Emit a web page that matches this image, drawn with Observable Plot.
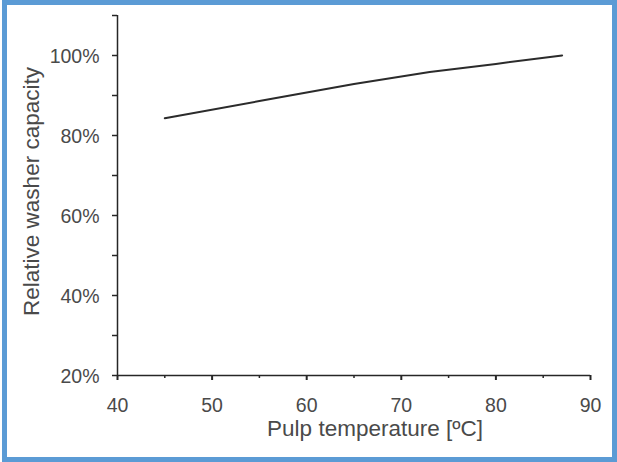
<!DOCTYPE html>
<html>
<head>
<meta charset="utf-8">
<script src="https://cdn.jsdelivr.net/npm/d3@7"></script>
<script src="https://cdn.jsdelivr.net/npm/@observablehq/plot@0.6"></script>
<style>
  html, body { margin: 0; padding: 0; background: #fff; }
  #wrap { position: relative; width: 617px; height: 462px; overflow: hidden; }
  #frame { position: absolute; left: 2px; top: 0px; right: 0px; bottom: 0px; border: 5px solid #5b9bd5; box-sizing: border-box; pointer-events: none; }
</style>
</head>
<body>
<div id="wrap"><div id="chart"></div><div id="frame"></div></div>
<script>
const temperature = [45, 55, 65, 73, 80, 87];
const capacity = [84.3, 88.6, 92.9, 95.9, 97.9, 100];
const xMajorTicks = [40, 50, 60, 70, 80, 90];
const xMinorTicks = [45, 55, 65, 75, 85];
const yLabelTicks = [20, 40, 60, 80, 100];
const yAllTicks = [20, 30, 40, 50, 60, 70, 80, 90, 100, 110];
const xTitle = "Pulp temperature [ºC]";
const yTitle = "Relative washer capacity";

const data = temperature.map((t, i) => ({t, c: capacity[i]}));
const axisColor = "#262626";
const textColor = "#4a4a4a";

const chart = Plot.plot({
  width: 617,
  height: 462,
  marginLeft: 117,
  marginRight: 27,
  marginTop: 15,
  marginBottom: 87,
  style: {fontFamily: "'Liberation Sans', Arial, sans-serif", fontSize: "19.5px", color: textColor, background: "#fff"},
  x: {domain: [40, 90]},
  y: {domain: [20, 110]},
  marks: [
    Plot.axisY({ticks: yAllTicks, tickSize: 5, tickFormat: () => "", stroke: axisColor, strokeWidth: 1.5, label: null}),
    Plot.axisX({ticks: xMajorTicks, tickSize: 5, tickFormat: () => "", stroke: axisColor, strokeWidth: 2, label: null}),
    Plot.axisX({ticks: xMinorTicks, tickSize: 3, tickFormat: () => "", stroke: axisColor, strokeWidth: 1.5, label: null}),
    Plot.text(yLabelTicks, {x: 40, y: d => d, text: d => d + "%", textAnchor: "end", lineAnchor: "middle", dx: -18, dy: 1, fill: textColor, fontSize: 19.5}),
    Plot.text(xMajorTicks, {x: d => d, y: 20, text: d => String(d), textAnchor: "middle", lineAnchor: "top", dy: 23, fill: textColor, fontSize: 19.5}),
    Plot.ruleX([40], {stroke: axisColor, strokeWidth: 1.5}),
    Plot.ruleY([20], {stroke: axisColor, strokeWidth: 1.5}),
    Plot.line(data, {x: "t", y: "c", stroke: "#2b2b2b", strokeWidth: 2}),
    Plot.text([xTitle], {frameAnchor: "bottom", textAnchor: "middle", lineAnchor: "bottom", dx: 21, dy: 60, fill: textColor, fontSize: 22.5}),
    Plot.text([yTitle], {frameAnchor: "left", textAnchor: "middle", lineAnchor: "middle", rotate: -90, dx: -86, dy: -4, fill: textColor, fontSize: 22.5})
  ]
});
document.getElementById("chart").appendChild(chart);
</script>
</body>
</html>
